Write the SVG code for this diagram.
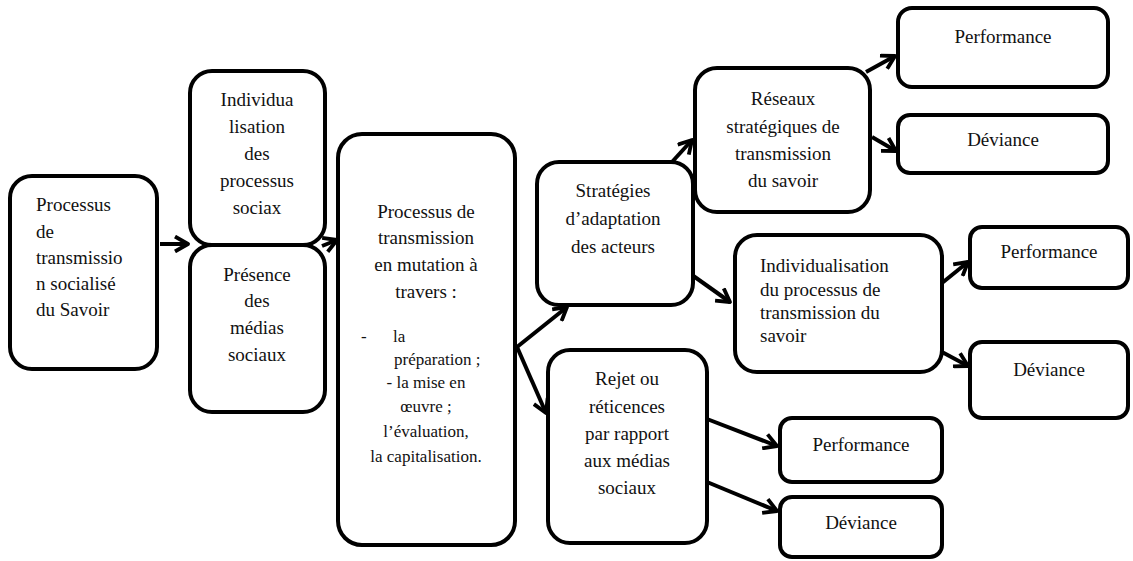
<svg xmlns="http://www.w3.org/2000/svg" width="1133" height="561" viewBox="0 0 1133 561">
<defs>
<style>
.box{fill:#fff;stroke:#000;stroke-width:4}
.t{font-family:"Liberation Serif","Times New Roman",serif;font-size:19px;fill:#111}
.c{text-anchor:middle}
.s{font-size:17px}
.ln{stroke:#000;stroke-width:4;fill:none;marker-end:url(#ah)}
</style>
<marker id="ah" markerUnits="userSpaceOnUse" markerWidth="18" markerHeight="18" viewBox="0 0 18 18" refX="15" refY="9" orient="auto">
<path d="M2,1.5 L15,9 L2,16.5" fill="none" stroke="#000" stroke-width="3.8" stroke-linejoin="round"/>
</marker>
</defs>
<rect width="1133" height="561" fill="#fff"/>
<g id="connectors">
<line class="ln" x1="160" y1="244" x2="188" y2="244"/>
<line class="ln" x1="322" y1="246" x2="337" y2="240"/>
<line class="ln" x1="517" y1="347" x2="567" y2="307"/>
<line class="ln" x1="517" y1="347" x2="546" y2="413"/>
<line class="ln" x1="672" y1="162" x2="692" y2="140"/>
<line class="ln" x1="692" y1="275" x2="730" y2="302"/>
<line class="ln" x1="866" y1="72" x2="895" y2="56"/>
<line class="ln" x1="872" y1="137" x2="896" y2="151"/>
<line class="ln" x1="942" y1="283" x2="968" y2="262"/>
<line class="ln" x1="942" y1="352" x2="968" y2="366"/>
<line class="ln" x1="707" y1="419" x2="777" y2="446"/>
<line class="ln" x1="707" y1="482" x2="777" y2="511"/>
</g>
<g id="n1">
<rect class="box" x="10" y="176" width="147" height="193" rx="22"/>
<text class="t" x="36"><tspan x="36" y="211">Processus</tspan><tspan x="36" y="238">de</tspan><tspan x="36" y="264">transmissio</tspan><tspan x="36" y="290">n socialisé</tspan><tspan x="36" y="316">du Savoir</tspan></text>
</g>
<g id="n2">
<rect class="box" x="190" y="71" width="135" height="174" rx="22"/>
<text class="t c" x="257"><tspan x="257" y="106">Individua</tspan><tspan x="257" y="133">lisation</tspan><tspan x="257" y="160">des</tspan><tspan x="257" y="187">processus</tspan><tspan x="257" y="214">sociax</tspan></text>
</g>
<g id="n3">
<rect class="box" x="190" y="245" width="135" height="167" rx="22"/>
<text class="t c" x="257"><tspan x="257" y="281">Présence</tspan><tspan x="257" y="307">des</tspan><tspan x="257" y="334">médias</tspan><tspan x="257" y="361">sociaux</tspan></text>
</g>
<g id="n4">
<rect class="box" x="338" y="134" width="177" height="411" rx="24"/>
<text class="t c" x="426"><tspan x="426" y="218">Processus de</tspan><tspan x="426" y="244">transmission</tspan><tspan x="426" y="271">en  mutation  à</tspan><tspan x="426" y="298">travers  :</tspan></text>
<text class="t s"><tspan x="361" y="342">-</tspan><tspan x="393" y="342">la</tspan><tspan x="394" y="365">préparation ;</tspan></text>
<text class="t s c" x="426"><tspan x="426" y="388">- la mise en</tspan><tspan x="426" y="412">œuvre ;</tspan><tspan x="426" y="437">l’évaluation,</tspan><tspan x="426" y="462">la capitalisation.</tspan></text>
</g>
<g id="n5">
<rect class="box" x="537" y="162" width="156" height="143" rx="22"/>
<text class="t c" x="613"><tspan x="613" y="197">Stratégies</tspan><tspan x="613" y="225">d’adaptation</tspan><tspan x="613" y="253">des acteurs</tspan></text>
</g>
<g id="n6">
<rect class="box" x="548" y="350" width="159" height="193" rx="22"/>
<text class="t c" x="627"><tspan x="627" y="385">Rejet ou</tspan><tspan x="627" y="413">réticences</tspan><tspan x="627" y="440">par rapport</tspan><tspan x="627" y="467">aux médias</tspan><tspan x="627" y="494">sociaux</tspan></text>
</g>
<g id="n7">
<rect class="box" x="695" y="68" width="175" height="144" rx="22"/>
<text class="t c" x="783"><tspan x="783" y="105">Réseaux</tspan><tspan x="783" y="133">stratégiques  de</tspan><tspan x="783" y="160">transmission</tspan><tspan x="783" y="187">du savoir</tspan></text>
</g>
<g id="n8">
<rect class="box" x="898" y="8" width="210" height="79" rx="14"/>
<text class="t c" x="1003" y="43">Performance</text>
</g>
<g id="n9">
<rect class="box" x="898" y="115" width="210" height="58" rx="12"/>
<text class="t c" x="1003" y="146">Déviance</text>
</g>
<g id="n10">
<rect class="box" x="735" y="235" width="207" height="137" rx="22"/>
<text class="t" x="760"><tspan x="760" y="272">Individualisation</tspan><tspan x="760" y="296">du processus de</tspan><tspan x="760" y="319">transmission du</tspan><tspan x="760" y="342">savoir</tspan></text>
</g>
<g id="n11">
<rect class="box" x="970" y="227" width="158" height="61" rx="12"/>
<text class="t c" x="1049" y="258">Performance</text>
</g>
<g id="n12">
<rect class="box" x="970" y="342" width="158" height="76" rx="12"/>
<text class="t c" x="1049" y="376">Déviance</text>
</g>
<g id="n13">
<rect class="box" x="780" y="418" width="162" height="64" rx="12"/>
<text class="t c" x="861" y="451">Performance</text>
</g>
<g id="n14">
<rect class="box" x="780" y="497" width="162" height="60" rx="12"/>
<text class="t c" x="861" y="529">Déviance</text>
</g>
</svg>
